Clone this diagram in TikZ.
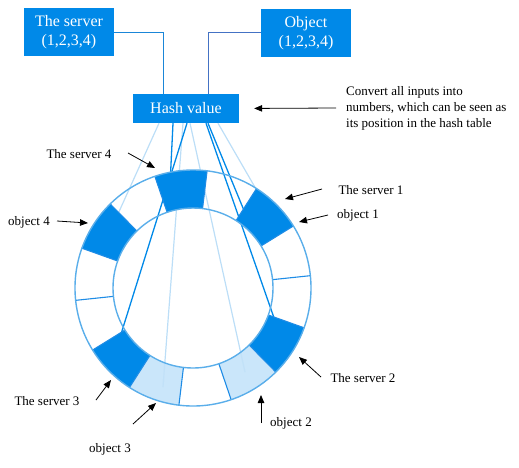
\documentclass[tikz,border=0pt]{standalone}
\usepackage{fontspec}
\setmainfont{Liberation Serif}
\usetikzlibrary{arrows.meta}
\definecolor{hashblue}{HTML}{0089E8}
\definecolor{paleblue}{HTML}{C2E2F9}
\definecolor{ringblue}{HTML}{5AAEEA}
\definecolor{edgeblue}{HTML}{1E8CE6}
\definecolor{srvlink}{HTML}{1A86D8}
\definecolor{objlink}{HTML}{4472C4}
\definecolor{faintblue}{HTML}{BCDEF7}
\begin{document}
\begin{tikzpicture}[x=1pt,y=-1pt,
  box/.style={fill=hashblue, text=white, inner sep=0pt, align=center,
    font=\fontsize{16}{19}\selectfont},
  lbl/.style={font=\fontsize{13}{16}\selectfont, inner sep=0pt},
  pointer/.style={-{Triangle[length=8pt,width=6.5pt]}, line width=0.8pt},
  srvline/.style={hashblue, line width=1.3pt},
  objline/.style={faintblue, line width=1.2pt},
  radial/.style={edgeblue, line width=1.1pt},
  ringline/.style={ringblue, line width=1.4pt}]
  \useasboundingbox (0,0) rectangle (519,467);
  % boxes
  \node[box, minimum width=90pt, minimum height=48pt] (srv) at (69,32) {The server\\(1,2,3,4)};
  \node[box, minimum width=90pt, minimum height=48pt] (obj) at (306,33) {Object\\(1,2,3,4)};
  \node[box, minimum width=106pt, minimum height=29pt] (hash) at (186,108.5) {Hash value};
  \draw[srvlink, line width=1pt] (srv.east) -| ([xshift=-23pt]hash.north);
  \draw[objlink, line width=1pt] ([yshift=1pt]obj.west) -| ([xshift=22pt]hash.north);
  % hash positions
  \coordinate (s1) at (250,225);
  \coordinate (s2) at (280,335);
  \coordinate (s3) at (116,350);
  \coordinate (s4) at (170,185);
  \coordinate (o1) at (256,189);
  \coordinate (o2) at (245,372);
  \coordinate (o3) at (163,387);
  \coordinate (o4) at (118.6,212.6);
  \draw[objline] ([xshift=-27pt]hash.south) -- (o4);
  \draw[objline] ([xshift=-3pt]hash.south) -- (o3);
  \draw[objline] ([xshift=4pt]hash.south) -- (o2);
  \draw[objline] ([xshift=32pt]hash.south) -- (o1);
  \draw[srvline] ([xshift=-13pt]hash.south) -- (s4);
  \draw[srvline] ([xshift=1pt]hash.south) -- (s3);
  \draw[srvline] ([xshift=20pt]hash.south) -- (s2);
  \draw[srvline] ([xshift=22pt]hash.south) -- (s1);
  % ring
  \begin{scope}[shift={(193,288)}, yscale=-1]
    \foreach \k/\c/\o in {1/hashblue/1,3/hashblue/1,5/hashblue/1,8/hashblue/1,12/hashblue/1,
                          9/paleblue/.87,11/paleblue/.87}{
      \pgfmathsetmacro\a{6+\k*360/14}
      \pgfmathsetmacro\b{\a+360/14}
      \fill[\c, fill opacity=\o] (\a:80) arc[start angle=\a, end angle=\b, radius=80]
        -- (\b:118) arc[start angle=\b, end angle=\a, radius=118] -- cycle;
    }
    \foreach \k in {0,...,13}{
      \pgfmathsetmacro\a{6+\k*360/14}
      \draw[radial] (\a:80) -- (\a:118);
    }
    \draw[ringline] (0,0) circle[radius=80];
    \draw[ringline] (0,0) circle[radius=118];
  \end{scope}
  % labels
  \node[lbl] (ls4) at (79,154) {The server 4};
  \node[lbl] (lo4) at (29,222) {object 4};
  \node[lbl] (ls1) at (371,190) {The server 1};
  \node[lbl] (lo1) at (358,215) {object 1};
  \node[lbl] (ls2) at (363,378) {The server 2};
  \node[lbl] (ls3) at (47,401) {The server 3};
  \node[lbl] (lo3) at (110,449) {object 3};
  \node[lbl] (lo2) at (291,423) {object 2};
  \node[lbl, align=left, anchor=west] (note) at (346,108)
    {Convert all inputs into\\numbers, which can be seen as\\its position in the hash table};
  % pointers
  \coordinate (t4) at (128,153);  \coordinate (p4) at (155,168);
  \coordinate (u4) at (57,221);   \coordinate (q4) at (88,223);
  \coordinate (t1) at (322,189);  \coordinate (p1) at (285,199);
  \coordinate (u1) at (328,215);  \coordinate (q1) at (299,222);
  \coordinate (t2) at (321,377);  \coordinate (p2) at (299,357);
  \coordinate (t3) at (96,400);   \coordinate (p3) at (111,380);
  \coordinate (u3) at (133,424);  \coordinate (q3) at (156,403);
  \coordinate (u2) at (261,423);  \coordinate (q2) at (261,395);
  \coordinate (tn) at (336,108);
  \draw[pointer] (t4) -- (p4);
  \draw[pointer] (u4) -- (q4);
  \draw[pointer] (t1) -- (p1);
  \draw[pointer] (u1) -- (q1);
  \draw[pointer] (t2) -- (p2);
  \draw[pointer] (t3) -- (p3);
  \draw[pointer] (u3) -- (q3);
  \draw[pointer] (u2) -- (q2);
  \draw[pointer, shorten >=15pt] (tn) -- (hash.east);
\end{tikzpicture}
\end{document}
